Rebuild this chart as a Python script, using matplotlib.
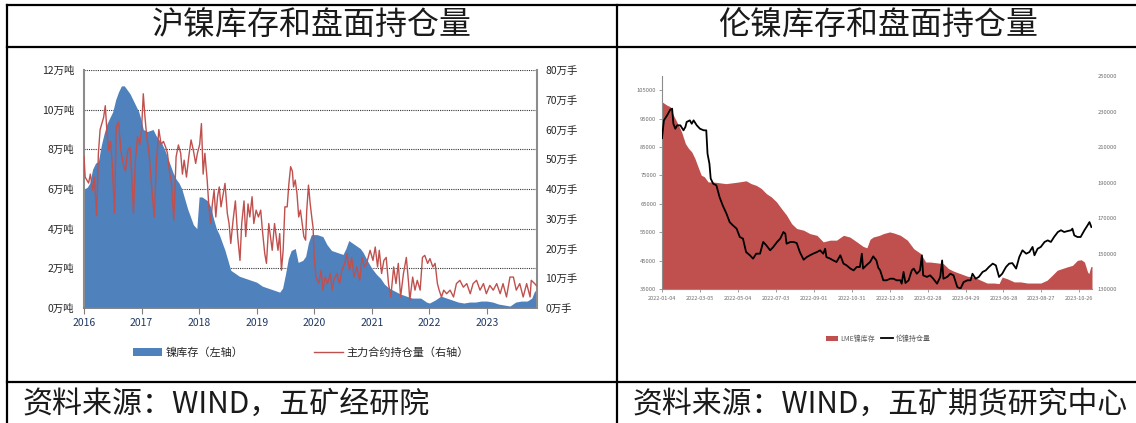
import matplotlib
matplotlib.use("Agg")
import matplotlib.pyplot as plt
import pandas as pd
from matplotlib.lines import Line2D
from matplotlib.patches import Patch

plt.rcParams['font.family'] = ['Noto Sans CJK SC', 'DejaVu Sans']

# ---------------- SHFE nickel: inventory (10k t) and main-contract open interest (10k lots)
inv_year = [2016.00, 2016.01, 2016.06, 2016.10, 2016.15, 2016.20, 2016.25, 2016.30, 2016.35, 2016.40,
            2016.45, 2016.50, 2016.55, 2016.60, 2016.65, 2016.70, 2016.75, 2016.80, 2016.85, 2016.90,
            2016.95, 2017.00, 2017.03, 2017.10, 2017.20, 2017.25, 2017.30, 2017.35, 2017.40, 2017.45,
            2017.50, 2017.55, 2017.60, 2017.65, 2017.70, 2017.75, 2017.80, 2017.85, 2017.90, 2017.96,
            2018.00, 2018.05, 2018.10, 2018.15, 2018.20, 2018.25, 2018.30, 2018.35, 2018.40, 2018.45,
            2018.50, 2018.55, 2018.60, 2018.70, 2018.80, 2018.90, 2019.00, 2019.10, 2019.20, 2019.30,
            2019.40, 2019.45, 2019.50, 2019.55, 2019.60, 2019.67, 2019.72, 2019.80, 2019.85, 2019.90,
            2019.95, 2020.05, 2020.15, 2020.22, 2020.30, 2020.40, 2020.50, 2020.55, 2020.60, 2020.65,
            2020.70, 2020.80, 2020.85, 2020.92, 2021.00, 2021.08, 2021.15, 2021.22, 2021.30, 2021.40,
            2021.50, 2021.60, 2021.70, 2021.85, 2021.95, 2022.00, 2022.10, 2022.20, 2022.30, 2022.40,
            2022.50, 2022.60, 2022.70, 2022.80, 2022.90, 2023.00, 2023.10, 2023.20, 2023.30, 2023.40,
            2023.45, 2023.50, 2023.60, 2023.70, 2023.78, 2023.82, 2023.87]
inv_val = [5.0, 6.0, 6.1, 6.3, 7.0, 7.3, 7.4, 8.2, 8.8, 9.3,
           9.6, 9.9, 10.5, 10.9, 11.2, 11.2, 11.0, 10.8, 10.5, 10.2,
           9.9, 9.4, 9.0, 8.9, 9.0, 8.7, 8.5, 8.3, 8.0, 7.6,
           7.2, 6.8, 6.5, 6.3, 6.0, 5.5, 5.0, 4.6, 4.2, 4.0,
           5.6, 5.6, 5.5, 5.4, 5.1, 4.5, 4.0, 3.7, 3.3, 2.9,
           2.4, 1.9, 1.8, 1.6, 1.5, 1.4, 1.3, 1.1, 1.0, 0.9,
           0.8, 1.0, 1.7, 2.5, 2.9, 3.0, 2.3, 2.4, 2.6, 3.3,
           3.7, 3.7, 3.6, 3.2, 2.9, 2.8, 2.7, 3.0, 3.4, 3.3,
           3.2, 3.0, 2.8, 2.4, 2.0, 1.7, 1.5, 1.2, 1.0, 0.85,
           0.7, 0.6, 0.5, 0.5, 0.3, 0.25, 0.4, 0.6, 0.5, 0.4,
           0.3, 0.25, 0.3, 0.3, 0.35, 0.35, 0.3, 0.2, 0.15, 0.1,
           0.2, 0.3, 0.35, 0.35, 0.5, 0.8, 1.0]

oi_year = [2016.00, 2016.02, 2016.05, 2016.08, 2016.11, 2016.15, 2016.18, 2016.22, 2016.25, 2016.28,
           2016.31, 2016.34, 2016.37, 2016.40, 2016.43, 2016.46, 2016.49, 2016.53, 2016.56, 2016.60,
           2016.64, 2016.68, 2016.72, 2016.76, 2016.80, 2016.83, 2016.86, 2016.89, 2016.93, 2016.97,
           2017.00, 2017.03, 2017.06, 2017.09, 2017.13, 2017.17, 2017.22, 2017.26, 2017.30, 2017.34,
           2017.38, 2017.42, 2017.45, 2017.49, 2017.52, 2017.56, 2017.60, 2017.64, 2017.68, 2017.71,
           2017.74, 2017.78, 2017.82, 2017.86, 2017.90, 2017.94, 2017.97, 2018.01, 2018.04, 2018.07,
           2018.10, 2018.14, 2018.17, 2018.20, 2018.23, 2018.26, 2018.29, 2018.32, 2018.35, 2018.38,
           2018.41, 2018.45, 2018.49, 2018.52, 2018.55, 2018.59, 2018.63, 2018.67, 2018.71, 2018.74,
           2018.78, 2018.81, 2018.85, 2018.88, 2018.92, 2018.95, 2018.99, 2019.03, 2019.07, 2019.10,
           2019.14, 2019.17, 2019.21, 2019.24, 2019.27, 2019.31, 2019.34, 2019.37, 2019.40, 2019.43,
           2019.46, 2019.49, 2019.53, 2019.56, 2019.59, 2019.62, 2019.64, 2019.67, 2019.70, 2019.73,
           2019.76, 2019.79, 2019.82, 2019.85, 2019.87, 2019.90, 2019.93, 2019.96, 2019.98, 2020.00,
           2020.03, 2020.08, 2020.12, 2020.15, 2020.19, 2020.23, 2020.28, 2020.31, 2020.34, 2020.39,
           2020.44, 2020.48, 2020.53, 2020.57, 2020.61, 2020.65, 2020.69, 2020.74, 2020.79, 2020.83,
           2020.87, 2020.91, 2020.97, 2021.02, 2021.06, 2021.10, 2021.13, 2021.17, 2021.21, 2021.25,
           2021.29, 2021.33, 2021.38, 2021.42, 2021.46, 2021.50, 2021.55, 2021.60, 2021.64, 2021.66,
           2021.71, 2021.75, 2021.79, 2021.84, 2021.88, 2021.92, 2021.97, 2022.01, 2022.06, 2022.10,
           2022.14, 2022.17, 2022.21, 2022.25, 2022.30, 2022.36, 2022.42, 2022.47, 2022.53, 2022.59,
           2022.65, 2022.71, 2022.76, 2022.82, 2022.88, 2022.94, 2022.99, 2023.05, 2023.11, 2023.17,
           2023.23, 2023.28, 2023.34, 2023.40, 2023.46, 2023.51, 2023.57, 2023.63, 2023.69, 2023.75,
           2023.77, 2023.83, 2023.86]
oi_val = [50.8, 44, 43, 42, 45, 39.6, 44, 31, 52, 60,
          62, 64, 68, 58.7, 53, 56, 48.6, 31.8, 61, 62.6,
          53, 48.6, 46, 53, 54, 44, 31.8, 48.6, 57.6, 55,
          60, 72, 64, 57.6, 52, 42, 30.6, 49.7, 60, 55,
          56, 54, 52, 45, 42, 29.5, 50.8, 54.8, 52, 45,
          49.7, 44, 50.8, 56.5, 53, 48.6, 52, 55, 62, 45,
          52, 43, 34, 28.4, 35, 39.6, 30.6, 37.4, 40.7, 34,
          37.4, 41.9, 31.8, 28.4, 21.7, 29.5, 36, 24, 16, 28.4,
          36, 24, 35, 30.6, 37.4, 28.4, 32.9, 30.6, 32.9, 26,
          18.3, 15, 28.4, 24, 19.4, 28.4, 24, 19.4, 25, 12.7,
          19.4, 34, 34, 41.9, 47.5, 46, 40.7, 43, 38.5, 30.6,
          32.9, 28.4, 24, 22.8, 32.9, 41.3, 35, 30, 27, 17,
          10.4, 8.2, 12.7, 6, 10.4, 8.2, 11.6, 6, 9.3, 11.6,
          8.2, 12.7, 15, 18.3, 12.7, 17, 10.4, 13.8, 9.3, 17,
          13.8, 15, 19.4, 16, 20.5, 13.8, 19.4, 11.6, 16, 17,
          8.2, 3.7, 13.8, 8.2, 15, 3.7, 11.6, 17, 8.2, 2.6,
          10.4, 6, 9.3, 6, 17, 17.7, 15, 16.6, 13.8, 15,
          8.2, 6, 3.7, 6, 4.8, 6, 3.7, 8.2, 9.3, 7,
          8.2, 4.8, 8.2, 9.3, 6, 8.2, 4.8, 7.6, 6, 8.2,
          4.8, 8.2, 3.7, 10.4, 10.4, 6, 8.2, 3.7, 8.2, 3.7,
          9.3, 8.2, 7.5]

shfe_years = [2016, 2017, 2018, 2019, 2020, 2021, 2022, 2023]
inv_ticks = [0, 2, 4, 6, 8, 10, 12]
oi_ticks = [0, 10, 20, 30, 40, 50, 60, 70, 80]

# ---------------- LME nickel: stocks (t) and open interest (lots)
lme_stock_date = ['2022-01-04', '2022-01-12', '2022-01-17', '2022-01-22', '2022-01-30', '2022-02-04',
                  '2022-02-10', '2022-02-15', '2022-02-20', '2022-02-25', '2022-03-02', '2022-03-07',
                  '2022-03-12', '2022-03-18', '2022-03-25', '2022-04-05', '2022-04-15', '2022-04-26',
                  '2022-05-06', '2022-05-17', '2022-05-25', '2022-06-02', '2022-06-10', '2022-06-18',
                  '2022-06-26', '2022-07-04', '2022-07-12', '2022-07-20', '2022-07-28', '2022-08-05',
                  '2022-08-16', '2022-08-26', '2022-09-06', '2022-09-16', '2022-09-27', '2022-10-07',
                  '2022-10-18', '2022-10-28', '2022-11-08', '2022-11-18', '2022-11-24', '2022-11-29',
                  '2022-12-04', '2022-12-14', '2022-12-20', '2022-12-30', '2023-01-06', '2023-01-16',
                  '2023-01-27', '2023-02-06', '2023-02-17', '2023-02-25', '2023-03-04', '2023-03-15',
                  '2023-03-25', '2023-04-02', '2023-04-10', '2023-04-21', '2023-05-02', '2023-05-12',
                  '2023-05-23', '2023-06-02', '2023-06-13', '2023-06-21', '2023-06-26', '2023-07-04',
                  '2023-07-15', '2023-07-25', '2023-08-05', '2023-08-15', '2023-08-26', '2023-09-05',
                  '2023-09-13', '2023-09-21', '2023-09-29', '2023-10-07', '2023-10-15', '2023-10-23',
                  '2023-10-29', '2023-11-03', '2023-11-08', '2023-11-10', '2023-11-13', '2023-11-15']
lme_stock = [100900, 99700, 99200, 96200, 92700, 90300,
             86200, 84500, 83300, 81000, 78000, 75100,
             74500, 72700, 72700, 72400, 72100, 72400,
             72700, 73100, 72100, 71500, 70400, 68600,
             67400, 65700, 63300, 61000, 58000, 56300,
             55700, 54500, 53900, 51600, 52200, 52200,
             53900, 53300, 51600, 50000, 49500, 52500,
             53300, 53900, 54500, 55100, 54700, 53900,
             52200, 49200, 47500, 44500, 44500, 44200,
             43900, 42200, 41300, 40400, 39500, 39200,
             38100, 37100, 37100, 36900, 39200, 38600,
             37500, 37500, 37100, 37100, 37100, 38100,
             39800, 41600, 42200, 42800, 43300, 45100,
             45300, 44500, 41000, 40400, 42800, 43000]

lme_oi_date = ['2022-01-04', '2022-01-05', '2022-01-07', '2022-01-12', '2022-01-17', '2022-01-20',
               '2022-01-22', '2022-01-25', '2022-01-28', '2022-02-02', '2022-02-07', '2022-02-10',
               '2022-02-12', '2022-02-17', '2022-02-20', '2022-02-23', '2022-02-28', '2022-03-05',
               '2022-03-11', '2022-03-15', '2022-03-17', '2022-03-20', '2022-03-22', '2022-03-26',
               '2022-03-31', '2022-04-05', '2022-04-10', '2022-04-16', '2022-04-21', '2022-04-26',
               '2022-05-02', '2022-05-07', '2022-05-12', '2022-05-17', '2022-05-23', '2022-05-28',
               '2022-06-02', '2022-06-08', '2022-06-13', '2022-06-18', '2022-06-24', '2022-06-29',
               '2022-07-05', '2022-07-10', '2022-07-15', '2022-07-18', '2022-07-20', '2022-07-26',
               '2022-07-31', '2022-08-05', '2022-08-10', '2022-08-16', '2022-08-21', '2022-08-26',
               '2022-08-31', '2022-09-06', '2022-09-11', '2022-09-16', '2022-09-19', '2022-09-21',
               '2022-09-27', '2022-10-02', '2022-10-07', '2022-10-13', '2022-10-18', '2022-10-23',
               '2022-10-29', '2022-11-03', '2022-11-08', '2022-11-13', '2022-11-16', '2022-11-18',
               '2022-11-23', '2022-11-29', '2022-12-04', '2022-12-09', '2022-12-12', '2022-12-15',
               '2022-12-20', '2022-12-25', '2022-12-31', '2023-01-05', '2023-01-10', '2023-01-16',
               '2023-01-18', '2023-01-21', '2023-01-24', '2023-01-29', '2023-02-03', '2023-02-06',
               '2023-02-11', '2023-02-16', '2023-02-19', '2023-02-21', '2023-02-27', '2023-03-04',
               '2023-03-09', '2023-03-15', '2023-03-20', '2023-03-23', '2023-03-25', '2023-03-31',
               '2023-04-05', '2023-04-10', '2023-04-16', '2023-04-21', '2023-04-26', '2023-05-02',
               '2023-05-07', '2023-05-10', '2023-05-15', '2023-05-20', '2023-05-26', '2023-05-31',
               '2023-06-05', '2023-06-11', '2023-06-16', '2023-06-21', '2023-06-26', '2023-07-02',
               '2023-07-07', '2023-07-12', '2023-07-18', '2023-07-23', '2023-07-28', '2023-08-03',
               '2023-08-08', '2023-08-13', '2023-08-16', '2023-08-21', '2023-08-26', '2023-09-01',
               '2023-09-06', '2023-09-11', '2023-09-16', '2023-09-22', '2023-09-27', '2023-10-02',
               '2023-10-07', '2023-10-13', '2023-10-15', '2023-10-18', '2023-10-23', '2023-10-28',
               '2023-11-03', '2023-11-08', '2023-11-11', '2023-11-14']
lme_oi = [215000, 218400, 225000, 227800, 231000, 231600,
          223100, 220300, 222200, 222200, 219400, 221300,
          224100, 225000, 223100, 225000, 222200, 220300,
          219400, 219400, 206200, 200600, 192200, 189300,
          188400, 181800, 177100, 172400, 167700, 165900,
          164000, 159300, 158400, 150800, 149000, 147100,
          149900, 149900, 156500, 154600, 151800, 153700,
          156500, 158400, 162100, 161200, 155500, 156500,
          156500, 155900, 150800, 146500, 148000, 149000,
          149900, 150800, 151800, 149900, 152700, 148000,
          147100, 146100, 145200, 149000, 144300, 143300,
          141500, 140500, 142400, 142400, 149900, 141500,
          143300, 145200, 148400, 146100, 142000, 140500,
          134900, 134900, 135800, 135800, 134900, 134900,
          133000, 139600, 133400, 134900, 140500, 141500,
          138600, 140500, 149000, 137700, 136800, 137700,
          135800, 133000, 136800, 146100, 135800, 136800,
          138600, 137700, 131100, 130200, 133900, 134900,
          134900, 138600, 135800, 136800, 139600, 140500,
          142400, 144300, 143300, 136800, 138600, 142400,
          144300, 144600, 141500, 148000, 151800, 149900,
          150800, 153700, 149000, 152700, 153700, 156500,
          157400, 156500, 159300, 162100, 163100, 162100,
          162600, 163100, 164000, 160200, 159300, 159300,
          163100, 165900, 167700, 164900]

lme_stock_ticks = [35000, 45000, 55000, 65000, 75000, 85000, 95000, 105000]
lme_oi_ticks = [130000, 150000, 170000, 190000, 210000, 230000, 250000]

BLUE = '#4F81BD'
RED = '#C0504D'
LME_RED = '#C0504D'

W, H = 1136, 423
fig = plt.figure(figsize=(W / 100, H / 100), dpi=100)
fig.patch.set_facecolor('white')


def axes_px(x0, y0, x1, y1):
    return fig.add_axes([x0 / W, 1 - y1 / H, (x1 - x0) / W, (y1 - y0) / H])


# ---------------- left panel
ax1 = axes_px(84, 70, 537, 308)
ax1.fill_between(inv_year, inv_val, 0, color=BLUE, lw=0, zorder=2)
ax1.set_xlim(2016, 2023.87)
ax1.set_ylim(0, 12)
ax1.set_yticks(inv_ticks)
ax1.set_yticklabels([f'{v}万吨' for v in inv_ticks])
ax1.set_xticks(shfe_years)
ax1.set_xticklabels([str(y) for y in shfe_years])
ax1.set_axisbelow(True)
ax1.grid(axis='y', linestyle=(0, (1, 1)), color='#333333', lw=0.8)
ax1.grid(axis='x', visible=False)
for s in ('top', 'right'):
    ax1.spines[s].set_visible(False)
ax1.spines['left'].set_color('#8C8C8C')
ax1.spines['left'].set_linewidth(1.5)
ax1.spines['bottom'].set_color('#7F7F7F')
ax1.spines['bottom'].set_linewidth(1.2)
ax1.tick_params(axis='y', length=0, pad=7, labelsize=7.5, labelcolor='#262626')
ax1.tick_params(axis='x', direction='out', length=4, width=0.8, color='#7F7F7F',
                pad=3, labelsize=7.5, labelcolor='#1F3864')

ax2 = ax1.twinx()
ax2.plot(oi_year, oi_val, color=RED, lw=1.0, zorder=3)
ax2.set_ylim(0, 80)
ax2.set_yticks(oi_ticks)
ax2.set_yticklabels([f'{v}万手' for v in oi_ticks])
for s in ('top', 'left', 'bottom'):
    ax2.spines[s].set_visible(False)
ax2.spines['right'].set_color('#8C8C8C')
ax2.spines['right'].set_linewidth(1.5)
ax2.tick_params(axis='y', length=0, pad=6, labelsize=7.5, labelcolor='#262626')

fig.legend(handles=[Patch(facecolor=BLUE, edgecolor='none'),
                    Line2D([], [], color=RED, lw=1.0)],
           labels=['镍库存（左轴）', '主力合约持仓量（右轴）'],
           loc='center left', bbox_to_anchor=(133 / W, 1 - 352.5 / H),
           ncol=2, frameon=False, fontsize=8, handlelength=2.6, handleheight=0.7,
           handletextpad=0.3, columnspacing=6.4, borderpad=0, borderaxespad=0,
           labelcolor='#262626')

# ---------------- right panel
sd = pd.to_datetime(lme_stock_date)
od = pd.to_datetime(lme_oi_date)
ax3 = axes_px(662, 76, 1092, 289)
ax3.fill_between(sd, lme_stock, 35000, color=LME_RED, lw=0, zorder=2)
ax3.set_ylim(35000, 110000)
ax3.set_yticks(lme_stock_ticks)
ax3.set_yticklabels([str(v) for v in lme_stock_ticks])
start = pd.Timestamp('2022-01-04')
xt = [start + pd.Timedelta(days=60 * k) for k in range(12)]
ax3.set_xlim(start, pd.Timestamp('2023-11-15'))
ax3.set_xticks(xt)
ax3.set_xticklabels([d.strftime('%Y-%m-%d') for d in xt])
for s in ('top', 'right'):
    ax3.spines[s].set_visible(False)
ax3.spines['left'].set_color('#8C8C8C')
ax3.spines['left'].set_linewidth(0.8)
ax3.spines['bottom'].set_color('#8C8C8C')
ax3.spines['bottom'].set_linewidth(0.8)
ax3.tick_params(axis='y', direction='out', length=2, width=0.6, color='#8C8C8C',
                pad=2, labelsize=4.2, labelcolor='#6E6E6E')
ax3.tick_params(axis='x', direction='out', length=2, width=0.6, color='#8C8C8C',
                pad=3, labelsize=4, labelcolor='#6E6E6E')

ax4 = ax3.twinx()
ax4.plot(od, lme_oi, color='black', lw=1.3, zorder=3)
ax4.set_ylim(130000, 250000)
ax4.set_yticks(lme_oi_ticks)
ax4.set_yticklabels([str(v) for v in lme_oi_ticks])
for s in ax4.spines.values():
    s.set_visible(False)
ax4.tick_params(axis='y', length=0, pad=4, labelsize=4.2, labelcolor='#6E6E6E')

fig.legend(handles=[Patch(facecolor=LME_RED, edgecolor='none'),
                    Line2D([], [], color='black', lw=1.3)],
           labels=['LME镍库存', '伦镍持仓量'],
           loc='center left', bbox_to_anchor=(826 / W, 1 - 339 / H),
           ncol=2, frameon=False, fontsize=5, handlelength=1.75, handleheight=0.9,
           handletextpad=0.3, columnspacing=0.9, borderpad=0, borderaxespad=0,
           labelcolor='#595959')

# ---------------- table frame, titles and sources
frame_kw = dict(transform=fig.transFigure, color='black', lw=1.6)
for y in (5, 47.5, 381.5):
    fig.add_artist(Line2D([7 / W, 1], [1 - y / H, 1 - y / H], **frame_kw))
for x in (7, 617):
    fig.add_artist(Line2D([x / W, x / W], [1 - 5 / H, 0], **frame_kw))

fig.text(312 / W, 1 - 26 / H, '沪镍库存和盘面持仓量', ha='center', va='center',
         fontsize=23, fontweight='light', color='#1A1A1A')
fig.text(878 / W, 1 - 26 / H, '伦镍库存和盘面持仓量', ha='center', va='center',
         fontsize=23, fontweight='light', color='#1A1A1A')

fig.text(22 / W, 1 - 404 / H, '资料来源：WIND，五矿经研院', ha='left', va='center',
         fontsize=21.6, fontweight='light', color='#1A1A1A')
fig.text(633 / W, 1 - 404 / H, '资料来源：WIND，五矿期货研究中心', ha='left', va='center',
         fontsize=21.5, fontweight='light', color='#1A1A1A')

fig.savefig('out.png', dpi=100, facecolor='white')
